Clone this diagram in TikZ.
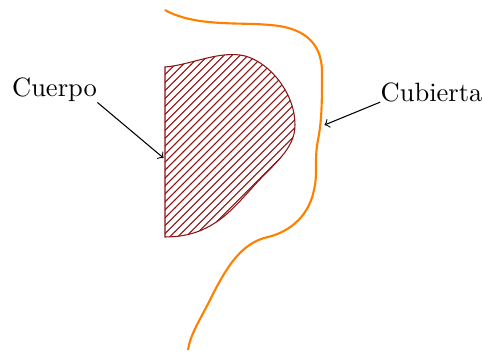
\documentclass[tikz,border=0pt]{standalone}
\usetikzlibrary{patterns}
\definecolor{bodyred}{RGB}{140,20,20}
\tikzset{
  label/.style={inner sep=0pt, font=\normalsize},
  pointer/.style={->, black, line width=0.4pt},
  cover/.style={draw=orange, line width=0.8pt},
  bodyfill/.style={draw=bodyred, line width=0.4pt, pattern=north east lines, pattern color=bodyred}
}
\begin{document}
\begin{tikzpicture}[x=0.3774pt, y=-0.3774pt]
\useasboundingbox (0,0) rectangle (482,351);
% body
\path[bodyfill] (165,67) .. controls (190,65) and (215,52) .. (240,55)
  .. controls (265,58) and (295,90) .. (295,125)
  .. controls (295,150) and (272,165) .. (252,188)
  .. controls (230,212) and (210,237) .. (165,237) -- cycle;
% cover
\draw[cover] (165,10) .. controls (195,27) and (240,22) .. (270,25)
  .. controls (300,27) and (322,40) .. (322,72)
  .. controls (322,100) and (322,120) .. (318,140)
  .. controls (314,160) and (318,175) .. (314,190)
  .. controls (308,220) and (285,233) .. (268,237)
  .. controls (240,243) and (225,270) .. (210,300)
  .. controls (200,320) and (190,335) .. (188,350);
% labels
\node[label] (cuerpo) at (54.5,90) {Cuerpo};
\node[label] (cubierta) at (431.5,92) {Cubierta};
\coordinate (bodypt) at (163.5,158);
\coordinate (coverpt) at (324.5,125);
\draw[pointer] (cuerpo.south east) -- (bodypt);
\draw[pointer] (cubierta.south west) -- (coverpt);
\end{tikzpicture}
\end{document}
